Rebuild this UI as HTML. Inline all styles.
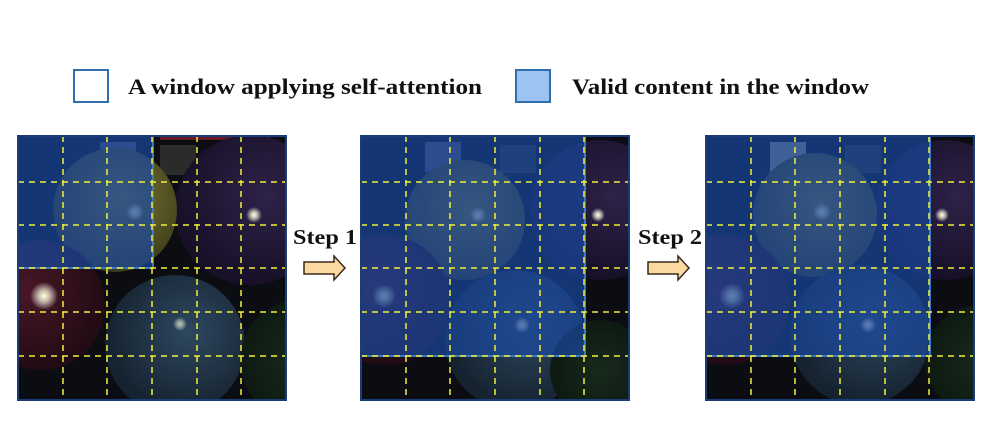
<!DOCTYPE html>
<html><head><style>
body{margin:0;background:#fff;width:991px;height:440px;overflow:hidden;font-family:"Liberation Serif",serif;}
</style></head><body>
<svg width="991" height="440" xmlns="http://www.w3.org/2000/svg">
<defs>
<radialGradient id="y" cx="0.55" cy="0.4" r="0.6"><stop offset="0" stop-color="#7a7a35"/><stop offset="1" stop-color="#3c3a18"/></radialGradient>
<radialGradient id="p" cx="0.6" cy="0.4" r="0.6"><stop offset="0" stop-color="#2e2248"/><stop offset="1" stop-color="#171028"/></radialGradient>
<radialGradient id="r" cx="0.4" cy="0.4" r="0.6"><stop offset="0" stop-color="#481726"/><stop offset="1" stop-color="#220b14"/></radialGradient>
<radialGradient id="b" cx="0.6" cy="0.4" r="0.6"><stop offset="0" stop-color="#2e4860"/><stop offset="1" stop-color="#15222f"/></radialGradient>
<radialGradient id="g" cx="0.5" cy="0.5" r="0.6"><stop offset="0" stop-color="#172a1c"/><stop offset="1" stop-color="#0c160f"/></radialGradient>
<radialGradient id="hl"><stop offset="0" stop-color="#ffffe0"/><stop offset="0.4" stop-color="#ffffe0" stop-opacity="0.7"/><stop offset="1" stop-color="#fff" stop-opacity="0"/></radialGradient>
<clipPath id="c1"><rect x="18" y="136" width="268" height="264"/></clipPath>
<clipPath id="c2"><rect x="361" y="136" width="268" height="264"/></clipPath>
<clipPath id="c3"><rect x="706" y="136" width="268" height="264"/></clipPath>
</defs>
<rect x="74" y="70" width="34" height="32" fill="#fff" stroke="#2f6fb0" stroke-width="2"/>
<text x="128" y="94" font-size="22" font-weight="bold" fill="#111" textLength="354" lengthAdjust="spacingAndGlyphs">A window applying self-attention</text>
<rect x="516" y="70" width="34" height="32" fill="#9cc3f2" stroke="#2f6fb0" stroke-width="2"/>
<text x="572" y="94" font-size="22" font-weight="bold" fill="#111" textLength="297" lengthAdjust="spacingAndGlyphs">Valid content in the window</text>

<g clip-path="url(#c1)">
<rect x="18" y="136" width="268" height="264" fill="#0b0d12"/>
<rect x="100" y="142" width="36" height="32" fill="#556"/><rect x="160" y="145" width="36" height="30" fill="#2a2c2a"/>
<rect x="160" y="136" width="110" height="4" fill="#6a1a22"/>
<circle cx="250" cy="210" r="75" fill="url(#p)"/>
<circle cx="115" cy="210" r="62" fill="url(#y)"/>
<circle cx="40" cy="305" r="65" fill="url(#r)"/>
<circle cx="175" cy="345" r="70" fill="url(#b)"/>
<circle cx="300" cy="360" r="60" fill="url(#g)"/>
<circle cx="44" cy="296" r="14" fill="url(#hl)"/><circle cx="254" cy="215" r="8" fill="url(#hl)"/><circle cx="180" cy="324" r="7" fill="url(#hl)" opacity="0.7"/><circle cx="135" cy="212" r="9" fill="url(#hl)"/>
<rect x="18" y="136" width="135" height="132" fill="#1a48a0" fill-opacity="0.7" stroke="#3a78c0" stroke-width="2"/>
</g>
<g clip-path="url(#c2)">
<rect x="361" y="136" width="268" height="264" fill="#0b0d12"/>
<rect x="425" y="142" width="36" height="30" fill="#556"/><rect x="500" y="145" width="36" height="28" fill="#2a2c2a"/>
<circle cx="600" cy="210" r="70" fill="url(#p)"/>
<circle cx="465" cy="220" r="60" fill="url(#y)"/>
<circle cx="385" cy="300" r="65" fill="url(#r)"/>
<circle cx="515" cy="340" r="70" fill="url(#b)"/>
<circle cx="600" cy="370" r="50" fill="url(#g)"/>
<circle cx="384" cy="296" r="12" fill="url(#hl)"/><circle cx="598" cy="215" r="7" fill="url(#hl)"/><circle cx="522" cy="325" r="8" fill="url(#hl)"/><circle cx="478" cy="215" r="8" fill="url(#hl)"/>
<rect x="361" y="136" width="224" height="220" fill="#1a48a0" fill-opacity="0.7" stroke="#3a78c0" stroke-width="2"/>
</g>
<g clip-path="url(#c3)">
<rect x="706" y="136" width="268" height="264" fill="#0b0d12"/>
<rect x="770" y="142" width="36" height="30" fill="#998"/><rect x="845" y="145" width="36" height="28" fill="#2a2c2a"/>
<circle cx="945" cy="210" r="70" fill="url(#p)"/>
<circle cx="815" cy="215" r="62" fill="url(#y)"/>
<circle cx="725" cy="300" r="65" fill="url(#r)"/>
<circle cx="860" cy="335" r="70" fill="url(#b)"/>
<circle cx="980" cy="360" r="55" fill="url(#g)"/>
<circle cx="732" cy="296" r="13" fill="url(#hl)"/><circle cx="942" cy="215" r="7" fill="url(#hl)"/><circle cx="868" cy="325" r="8" fill="url(#hl)"/><circle cx="822" cy="212" r="9" fill="url(#hl)"/>
<rect x="706" y="136" width="224" height="220" fill="#1a48a0" fill-opacity="0.7" stroke="#3a78c0" stroke-width="2"/>
</g>
<g stroke="#f2ef3a" stroke-width="1.5" stroke-dasharray="6,5">
<g id="grid">
<line x1="63" y1="136" x2="63" y2="400"/><line x1="107" y1="136" x2="107" y2="400"/><line x1="152" y1="136" x2="152" y2="400"/><line x1="197" y1="136" x2="197" y2="400"/><line x1="241" y1="136" x2="241" y2="400"/>
<line x1="18" y1="182" x2="286" y2="182"/><line x1="18" y1="225" x2="286" y2="225"/><line x1="18" y1="268" x2="286" y2="268"/><line x1="18" y1="312" x2="286" y2="312"/><line x1="18" y1="356" x2="286" y2="356"/>
</g>
<use href="#grid" x="343"/>
<use href="#grid" x="688"/>
</g>
<g fill="none" stroke="#1a3c78" stroke-width="2">
<rect x="18" y="136" width="268" height="264"/><rect x="361" y="136" width="268" height="264"/><rect x="706" y="136" width="268" height="264"/>
</g>
<text x="293" y="244" font-size="21" font-weight="bold" fill="#111" textLength="64" lengthAdjust="spacingAndGlyphs">Step 1</text>
<polygon points="304,262 334,262 334,256 345,268 334,280 334,274 304,274" fill="#fbd9a0" stroke="#3a2a1a" stroke-width="1.5"/>
<text x="638" y="244" font-size="21" font-weight="bold" fill="#111" textLength="64" lengthAdjust="spacingAndGlyphs">Step 2</text>
<polygon points="648,262 678,262 678,256 689,268 678,280 678,274 648,274" fill="#fbd9a0" stroke="#3a2a1a" stroke-width="1.5"/>
</svg>
</body></html>
